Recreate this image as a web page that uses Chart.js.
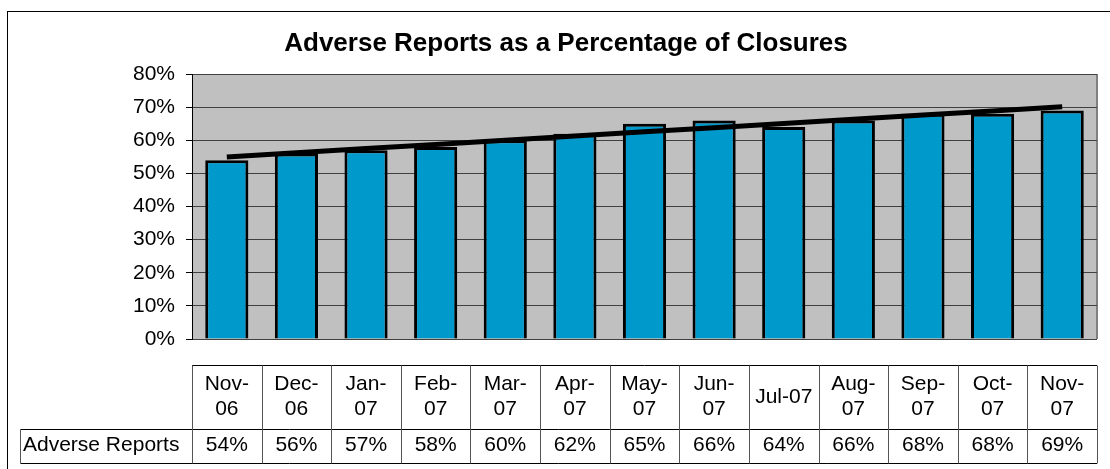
<!DOCTYPE html>
<html>
<head>
<meta charset="utf-8">
<script src="https://cdn.jsdelivr.net/npm/chart.js@4/dist/chart.umd.min.js"></script>
<style>
  html, body { margin: 0; padding: 0; background: #fff; }
  #wrap { width: 1110px; height: 469px; position: relative; }
</style>
</head>
<body>
<div id="wrap"><canvas id="chart"></canvas></div>
<script>
const chartTitle = "Adverse Reports as a Percentage of Closures";
const seriesName = "Adverse Reports";
const months = ["Nov-06", "Dec-06", "Jan-07", "Feb-07", "Mar-07", "Apr-07", "May-07",
                "Jun-07", "Jul-07", "Aug-07", "Sep-07", "Oct-07", "Nov-07"];
// how each month is wrapped in the data table header
const monthLines = [["Nov-", "06"], ["Dec-", "06"], ["Jan-", "07"], ["Feb-", "07"], ["Mar-", "07"],
                    ["Apr-", "07"], ["May-", "07"], ["Jun-", "07"], ["Jul-07"], ["Aug-", "07"],
                    ["Sep-", "07"], ["Oct-", "07"], ["Nov-", "07"]];
const adverse = [54, 56, 57, 58, 60, 62, 65, 66, 64, 66, 68, 68, 69];
const yMin = 0, yMax = 80, yStep = 10;

// linear trendline, same as Excel's
const linearTrend = (values) => {
  const n = values.length;
  const xMean = (n - 1) / 2;
  const yMean = values.reduce((a, b) => a + b, 0) / n;
  let num = 0, den = 0;
  values.forEach((v, i) => { num += (i - xMean) * (v - yMean); den += (i - xMean) ** 2; });
  const slope = num / den;
  return values.map((_, i) => yMean + slope * (i - xMean));
};
const trend = linearTrend(adverse);

const FONT = "'Liberation Sans', Arial, sans-serif";

const excelLook = {
  id: 'excelLook',
  beforeDraw(chart) {
    const { ctx, chartArea: a } = chart;
    ctx.save();
    ctx.fillStyle = '#fff';
    ctx.fillRect(0, 0, chart.width, chart.height);
    ctx.fillStyle = '#C0C0C0';
    ctx.fillRect(a.left, a.top, a.right - a.left, a.bottom - a.top);
    ctx.strokeStyle = '#808080';
    ctx.lineWidth = 2;
    ctx.beginPath();
    ctx.moveTo(a.right, a.top);
    ctx.lineTo(a.right, a.bottom);
    ctx.stroke();
    ctx.restore();
  },
  afterDraw(chart) {
    const { ctx, chartArea: a } = chart;
    const xs = chart.scales.x;
    const n = months.length;
    const w = (a.right - a.left) / n;
    const headTop = a.bottom + 26.5, mid = a.bottom + 90.5, bot = a.bottom + 124.5;
    const labelLeft = 20.5;

    ctx.save();
    // title
    ctx.fillStyle = '#000';
    ctx.font = "bold 26px " + FONT;
    ctx.textAlign = 'center';
    ctx.textBaseline = 'middle';
    ctx.fillText(chartTitle, 566, 44);

    // outer frame
    ctx.strokeStyle = '#000';
    ctx.lineWidth = 1;
    ctx.strokeRect(7.5, 11.5, 1300, 600);

    // data table grid
    ctx.strokeStyle = '#000';
    ctx.beginPath();
    ctx.moveTo(a.left, headTop); ctx.lineTo(a.right, headTop);
    ctx.moveTo(labelLeft, mid); ctx.lineTo(a.right, mid);
    ctx.moveTo(labelLeft, bot); ctx.lineTo(a.right, bot);
    ctx.stroke();
    ctx.strokeStyle = '#555';
    ctx.beginPath();
    ctx.moveTo(labelLeft, mid); ctx.lineTo(labelLeft, bot);
    for (let i = 0; i <= n; i++) {
      const x = Math.round(a.left + i * w) + 0.5;
      ctx.moveTo(x, headTop); ctx.lineTo(x, bot);
    }
    ctx.stroke();

    // table text
    ctx.fillStyle = '#000';
    ctx.font = "21px " + FONT;
    monthLines.forEach((lines, i) => {
      const cx = xs.getPixelForValue(i);
      if (lines.length === 1) {
        ctx.fillText(lines[0], cx, headTop + 32);
      } else {
        ctx.fillText(lines[0], cx, headTop + 19);
        ctx.fillText(lines[1], cx, headTop + 44);
      }
      ctx.fillText(adverse[i] + '%', cx, mid + 16);
    });
    ctx.textAlign = 'left';
    ctx.fillText(seriesName, 23, mid + 16);
    ctx.restore();
  }
};

new Chart(document.getElementById('chart'), {
  data: {
    labels: months,
    datasets: [
      {
        type: 'line',
        label: 'Linear (' + seriesName + ')',
        data: trend,
        borderColor: '#000',
        borderWidth: 5,
        pointRadius: 0,
        tension: 0,
        order: 0
      },
      {
        type: 'bar',
        label: seriesName,
        data: adverse,
        backgroundColor: '#0099CC',
        borderColor: '#000',
        borderWidth: 3,
        barPercentage: 0.62,
        categoryPercentage: 1,
        order: 1
      }
    ]
  },
  options: {
    responsive: true,
    maintainAspectRatio: false,
    devicePixelRatio: 1,
    animation: false,
    layout: { padding: { left: 0, right: 13, top: 74, bottom: 130 } },
    plugins: {
      legend: { display: false },
      title: { display: false },
      tooltip: { enabled: false }
    },
    scales: {
      x: { type: 'category', display: false, offset: true },
      y: {
        min: yMin,
        max: yMax,
        ticks: {
          stepSize: yStep,
          padding: 11,
          color: '#000',
          font: { family: FONT, size: 21 },
          callback: v => v + '%'
        },
        grid: { color: '#404040', lineWidth: 1, tickLength: 6, tickColor: '#000' },
        border: { display: true, color: '#000', width: 1 },
        afterFit: scale => { scale.width = 192; }
      }
    }
  },
  plugins: [excelLook]
});
</script>
</body>
</html>
